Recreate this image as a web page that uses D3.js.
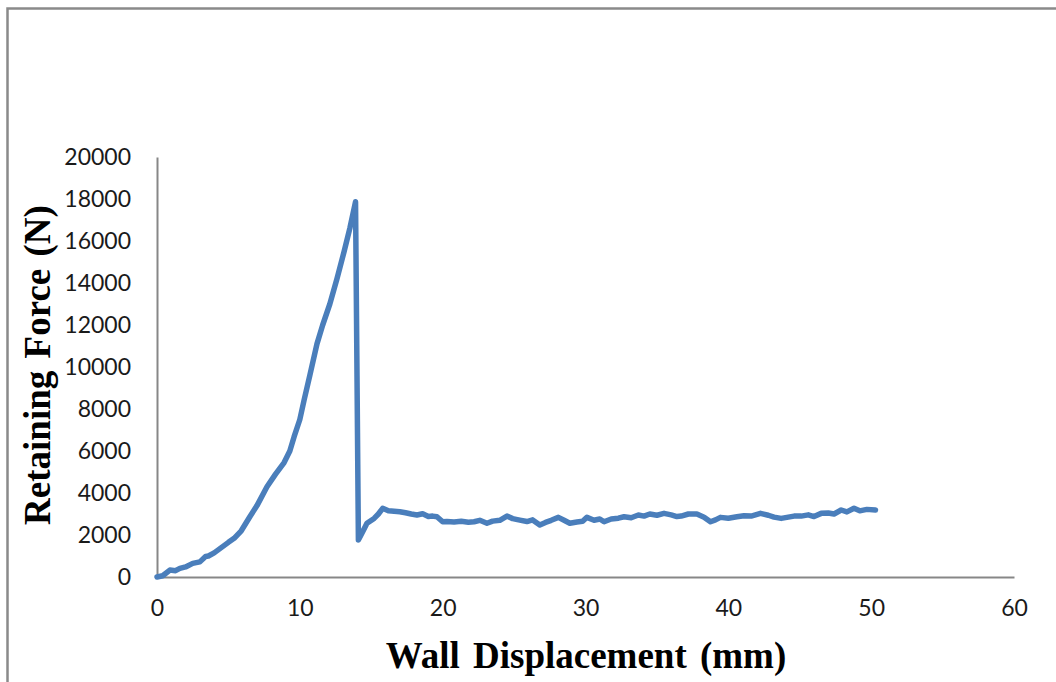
<!DOCTYPE html>
<html>
<head>
<meta charset="utf-8">
<script src="https://cdn.jsdelivr.net/npm/d3@7"></script>
<style>
  body { margin: 0; background: #fff; }
  svg { display: block; }
</style>
</head>
<body>
<div id="chart"></div>
<script>
// wall displacement (mm) and retaining force (N)
const displacement = [
  0, 0.4, 0.9, 1.3, 1.6, 2.0, 2.5, 3.0, 3.4, 3.6, 4.0, 4.5, 5.0, 5.4, 5.9, 6.5, 7.0, 7.7, 8.3, 8.9,
  9.3, 9.6, 10.0, 10.3, 10.7, 11.2, 11.6, 12.1, 12.6, 13.1, 13.5, 13.9,
  14.1, 14.4, 14.7, 15.2, 15.5, 15.8, 16.2, 16.6, 17.0, 17.4, 17.8, 18.2, 18.6, 19.0, 19.3, 19.6,
  20.0, 20.3, 20.8, 21.3, 21.8, 22.2, 22.6, 23.1, 23.5, 24.0, 24.5, 24.9, 25.4, 25.9, 26.3, 26.8,
  27.2, 27.6, 28.1, 28.5, 28.9, 29.4, 29.8, 30.1, 30.6, 31.0, 31.3, 31.8, 32.3, 32.7, 33.2, 33.7,
  34.1, 34.5, 35.0, 35.5, 36.0, 36.4, 36.7, 37.2, 37.8, 38.3, 38.75, 39.1, 39.45, 40.0, 40.6, 41.1,
  41.6, 42.25, 42.8, 43.2, 43.7, 44.2, 44.6, 45.1, 45.6, 46.0, 46.5, 47.0, 47.4, 47.9, 48.3, 48.8,
  49.2, 49.7, 50.3
];
const force = [
  0, 60, 330, 300, 410, 480, 650, 720, 980, 1000, 1150, 1400, 1650, 1840, 2200, 2870, 3400, 4300, 4900, 5450,
  6000, 6680, 7500, 8430, 9600, 11100, 12000, 13000, 14200, 15500, 16600, 17870,
  1760, 2150, 2560, 2790, 3000, 3270, 3150, 3130, 3110, 3060, 3000, 2950, 3010, 2880, 2900, 2870,
  2630, 2640, 2620, 2650, 2610, 2630, 2700, 2560, 2660, 2700, 2900, 2780, 2710, 2640, 2720, 2480,
  2600, 2700, 2840, 2700, 2560, 2620, 2650, 2840, 2700, 2760, 2630, 2760, 2800, 2870, 2820, 2950,
  2900, 3000, 2940, 3030, 2960, 2880, 2900, 3000, 3000, 2850, 2630, 2720, 2840, 2800, 2870, 2920,
  2900, 3030, 2940, 2850, 2790, 2850, 2900, 2900, 2960, 2880, 3030, 3050, 3000, 3190, 3100, 3270,
  3150, 3220, 3190
];
const xTicks = [0, 10, 20, 30, 40, 50, 60];
const yTicks = [0, 2000, 4000, 6000, 8000, 10000, 12000, 14000, 16000, 18000, 20000];

const W = 1056, H = 682;
const margin = { top: 157, right: 42, bottom: 105, left: 157 };
const width = W - margin.left - margin.right;
const height = H - margin.top - margin.bottom;

const svg = d3.select("#chart")
  .append("svg")
  .attr("width", W)
  .attr("height", H);

// chart frame (right and bottom edges run off the picture)
svg.append("rect")
  .attr("x", 7.5)
  .attr("y", 8.5)
  .attr("width", W + 20)
  .attr("height", H + 20)
  .attr("fill", "none")
  .attr("stroke", "#8a8a8a")
  .attr("stroke-width", 2.5);

const g = svg.append("g")
  .attr("transform", `translate(${margin.left},${margin.top})`);

const x = d3.scaleLinear().domain([0, 60]).range([0, width]);
const y = d3.scaleLinear().domain([0, 20000]).range([height, 0]);

const xAxis = g.append("g")
  .attr("transform", `translate(0,${height})`)
  .call(d3.axisBottom(x).tickValues(xTicks).tickFormat(d3.format("d"))
    .tickSize(0).tickPadding(23).tickSizeOuter(0));

const yAxis = g.append("g")
  .call(d3.axisLeft(y).tickValues(yTicks).tickFormat(d3.format("d"))
    .tickSize(0).tickPadding(26).tickSizeOuter(0));

[xAxis, yAxis].forEach(a => {
  a.select(".domain").attr("stroke", "#878787").attr("stroke-width", 2);
  a.selectAll("text")
    .attr("font-family", "Lato, 'Open Sans', sans-serif")
    .attr("font-size", 23)
    .attr("fill", "#1a1a1a");
});

const points = displacement.map((d, i) => ({ d, f: force[i] }));

g.append("path")
  .datum(points)
  .attr("fill", "none")
  .attr("stroke", "#4a7ebb")
  .attr("stroke-width", 5.5)
  .attr("stroke-linejoin", "round")
  .attr("stroke-linecap", "round")
  .attr("d", d3.line()
    .x(p => x(p.d))
    .y(p => y(p.f))
  );

// axis titles
svg.append("text")
  .attr("x", 586)
  .attr("y", 668)
  .attr("text-anchor", "middle")
  .attr("font-family", "'Liberation Serif', 'DejaVu Serif', serif")
  .attr("font-weight", "bold")
  .attr("font-size", 37)
  .attr("word-spacing", 4)
  .attr("fill", "#000")
  .text("Wall Displacement (mm)");

svg.append("text")
  .attr("transform", "translate(50,365) rotate(-90)")
  .attr("text-anchor", "middle")
  .attr("font-family", "'Liberation Serif', 'DejaVu Serif', serif")
  .attr("font-weight", "bold")
  .attr("font-size", 37)
  .attr("word-spacing", 3)
  .attr("fill", "#000")
  .text("Retaining Force (N)");
</script>
</body>
</html>
